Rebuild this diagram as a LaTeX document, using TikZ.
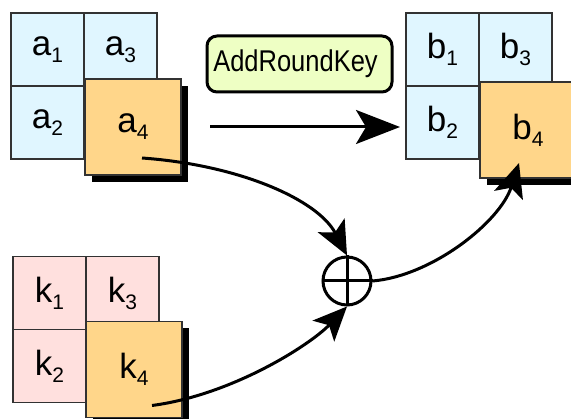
\documentclass[tikz,border=0pt]{standalone}
\usepackage{fontspec}
\usepackage{graphicx}
\setmainfont{Liberation Sans}
\usetikzlibrary{arrows.meta,calc,shadows}

\definecolor{cellblue}{RGB}{224,246,255}
\definecolor{cellpink}{RGB}{255,224,222}
\definecolor{cellorange}{RGB}{255,214,138}
\definecolor{keygreen}{RGB}{238,255,196}
\definecolor{cellline}{RGB}{50,50,50}

% state/key byte with a subscript index
\newcommand\bytelabel[2]{#1\raisebox{-7pt}{\fontsize{21}{21}\selectfont #2}}

\begin{document}
\begin{tikzpicture}[x=1pt,y=-1pt,
  cell/.style={draw=cellline, line width=1.2pt, minimum size=73pt,
    inner sep=0pt, font=\fontsize{35}{35}\selectfont},
  blue cell/.style={cell, fill=cellblue},
  pink cell/.style={cell, fill=cellpink},
  big cell/.style={cell, fill=cellorange, minimum size=96pt,
    drop shadow={shadow xshift=7pt, shadow yshift=-7pt, fill=black, opacity=1}},
  keybox/.style={draw=black, line width=3pt, fill=keygreen, rounded corners=10pt,
    minimum width=185pt, minimum height=56pt, inner sep=0pt,
    font=\fontsize{30}{30}\selectfont},
  xorsym/.style={circle, draw=black, line width=3pt, minimum size=48pt, inner sep=0pt},
  flow/.style={line width=3pt, -{Stealth[length=34pt, width=30pt, inset=8pt]}},
  bigflow/.style={line width=3pt, -{Stealth[length=44pt, width=34pt, inset=10pt]}}
]
\useasboundingbox (0,0) rectangle (571,419);
\clip (0,0) rectangle (571,419);

% input state a
\node[blue cell] (a1) at (47.5,49.5)  {\bytelabel{a}{1}};
\node[blue cell] (a3) at (120.5,49.5) {\bytelabel{a}{3}};
\node[blue cell] (a2) at (47.5,122.5) {\bytelabel{a}{2}};
\node[big cell]  (a4) at (133,127)    {\bytelabel{a}{4}};

% output state b
\node[blue cell] (b1) at (442.5,49.5) {\bytelabel{b}{1}};
\node[blue cell] (b3) at (515.5,49.5) {\bytelabel{b}{3}};
\node[blue cell] (b2) at (442.5,122.5) {\bytelabel{b}{2}};
\node[big cell]  (b4) at (528,130)    {\bytelabel{b}{4}};

% round key k
\node[pink cell] (k1) at (49.5,293)   {\bytelabel{k}{1}};
\node[pink cell] (k3) at (122.5,293)  {\bytelabel{k}{3}};
\node[pink cell] (k2) at (49.5,366)   {\bytelabel{k}{2}};
\node[big cell]  (k4) at (134,369.5)  {\bytelabel{k}{4}};

% operation label
\node[keybox] (ark) at (299.5,64) {\hspace*{-8pt}\scalebox{0.85}[1]{AddRoundKey}};

% xor
\node[xorsym] (xor) at (347,281) {};
\draw[line width=3pt] (xor.north) -- (xor.south) (xor.west) -- (xor.east);

% connectors
\coordinate (mapL) at (210,127);
\coordinate (mapR) at (400,127);
\draw[bigflow] (mapL) -- (mapR);

\coordinate (a4out) at ($(a4.center)+(9,31)$);
\coordinate (k4out) at ($(k4.center)+(18,36)$);
\coordinate (b4in)  at ($(b4.center)+(-9,33)$);

\draw[flow] (a4out) .. controls (240,165) and (318,200) .. (xor.north);
\draw[flow] (k4out) .. controls (232,395) and (310,345) .. (xor.south);
\draw[flow] (xor.east) .. controls (432,276) and (500,222) .. (b4in);
\end{tikzpicture}
\end{document}
